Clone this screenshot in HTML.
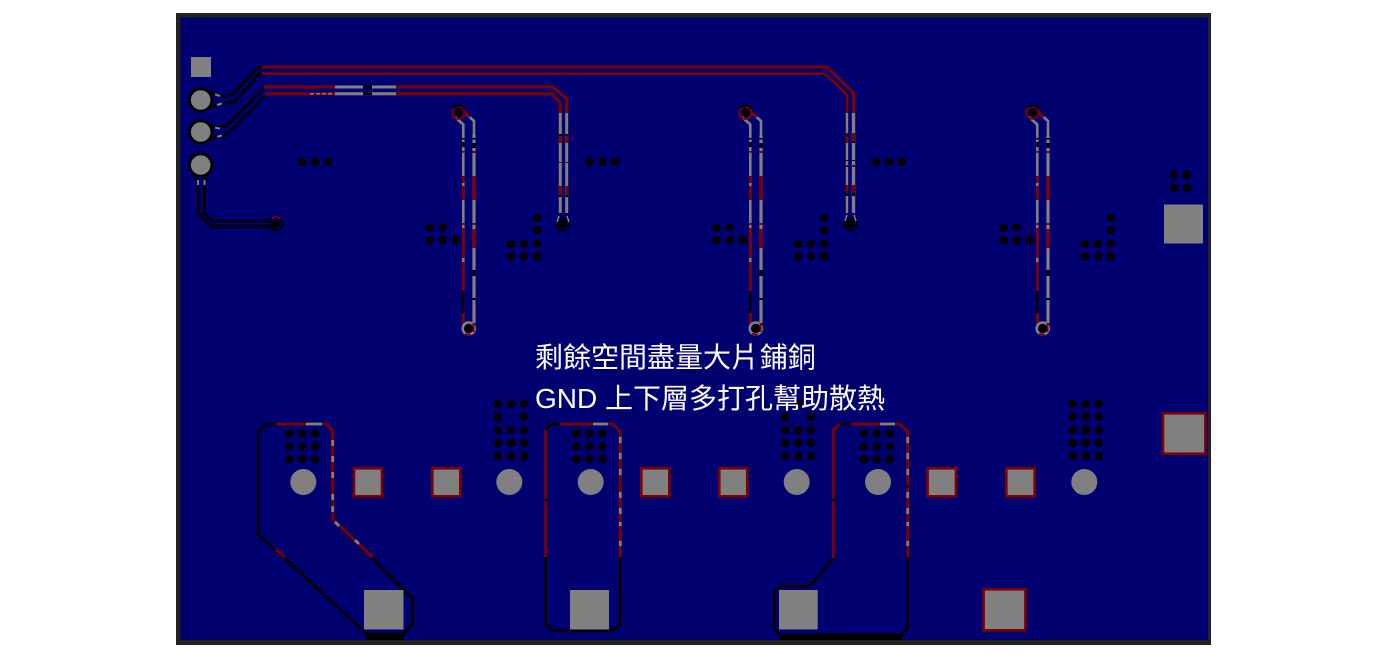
<!DOCTYPE html>
<html><head><meta charset="utf-8"><style>
html,body{margin:0;padding:0;background:#fff;width:1385px;height:669px;overflow:hidden}
svg{display:block;position:absolute;left:0;top:0}
.t{font-family:"Liberation Sans","WenQuanYi Zen Hei","Noto Sans CJK TC",sans-serif;font-size:28px;fill:#fff}
</style></head><body>
<svg width="1385" height="669" viewBox="0 0 1385 669" xmlns="http://www.w3.org/2000/svg">
<defs>
<g id="vp" fill="none">
<path d="M455 117L463.3 124.5V135M464 112L474 121V135" stroke="#808080" stroke-width="2.6"/>
<path d="M464 112L470 117" stroke="#800000" stroke-width="2.6"/>
<g stroke-width="2.6">
<path d="M463.3 135V325" stroke="#808080"/>
<path d="M463.3 138V139.5M463.3 142V147M463.3 291V313" stroke="#000"/>
<path d="M463.3 151V152.7M463.3 176V183M463.3 186V200M463.3 223V225M463.3 228V258M463.3 262V291M463.3 313V325" stroke="#800000"/>
</g>
<g stroke-width="3.2">
<path d="M474 135V323" stroke="#808080"/>
<path d="M474 138V139.5M474 143V148M474 270V276M474 298V300" stroke="#000"/>
<path d="M474 151V153M474 176V200M474 223V225M474 229V248" stroke="#800000"/>
</g>
<circle cx="458.5" cy="112.7" r="6.2" stroke="#800000" stroke-width="2"/>
<path d="M453 108A7.5 7.5 0 0 1 465 109" stroke="#000" stroke-width="2"/>
<circle cx="458.5" cy="112.7" r="4.2" fill="#000"/>
<circle cx="468.7" cy="328.5" r="6" stroke="#808080" stroke-width="2.6"/>
<path d="M473.5 323V332M465 334L471 335" stroke="#800000" stroke-width="2"/>
<circle cx="468.7" cy="328.5" r="4.2" fill="#000"/>
<g fill="#000">
<circle cx="429.5" cy="227.3" r="4.2"/><circle cx="442.6" cy="227.3" r="4.2"/>
<circle cx="429.5" cy="240" r="4.2"/><circle cx="442.6" cy="240" r="4.2"/><circle cx="455.6" cy="240" r="4.2"/>
<circle cx="537" cy="217.7" r="4.2"/><circle cx="537" cy="230.3" r="4.2"/>
<circle cx="511" cy="243.7" r="4.2"/><circle cx="524" cy="243.7" r="4"/><circle cx="537" cy="243.7" r="4.2"/>
<circle cx="511" cy="256.3" r="4.2"/><circle cx="524" cy="256.3" r="4"/><circle cx="537" cy="256.3" r="4.2"/>
<circle cx="302" cy="161.7" r="4.2"/>
<circle cx="315" cy="161.7" r="4.2"/><circle cx="328" cy="161.7" r="4.2"/>
</g>
</g>
<g id="cl3" fill="#000">
<circle cx="0" cy="0" r="4.2"/><circle cx="13" cy="0" r="4.2"/><circle cx="26" cy="0" r="4.2"/>
</g>
</defs>

<rect x="176" y="13" width="1035" height="632" fill="#222"/>
<rect x="180.5" y="17.5" width="1027.5" height="622.5" fill="#000070"/>

<use href="#vp"/>
<use href="#vp" x="287"/>
<use href="#vp" x="574"/>

<g fill="none" stroke-width="3">
<path d="M261.7 67H827L853.5 93V113" stroke="#800000"/>
<path d="M261.7 73.7H825L847 95V113" stroke="#800000" stroke-width="2.6"/>
<path d="M264 87H553L566.7 99V113" stroke="#800000"/>
<path d="M265 93.7H552L560.3 103V113" stroke="#800000"/>
<path d="M335 87H396M335 93.7H396" stroke="#808080"/>
<path d="M363 87H372M363 93.7H372" stroke="#000"/>
<path d="M310 93.7H332" stroke="#808080" stroke-width="1.5" stroke-dasharray="4 2"/>
<path d="M560.3 113V213M566.7 113V213" stroke="#808080"/>
<path d="M560.3 134V143M566.7 134V143M560.3 186V195M566.7 186V195M560.3 162V163M566.7 162V163" stroke="#800000"/>
<path d="M560.3 195V197M566.7 195V197M560.3 134V136M566.7 134V136" stroke="#000"/>
<path d="M847 113V213" stroke="#808080" stroke-width="2.4"/>
<path d="M853.5 113V213" stroke="#808080" stroke-width="3.4"/>
<path d="M847 133V143M853.5 133V143M847 165V167M853.5 165V167M847 185V193M853.5 185V193" stroke="#800000"/>
<path d="M847 160V161M853.5 160V161M847 193V196M853.5 193V196M847 134V136M853.5 141V143" stroke="#000"/>
</g>
<g fill="#000">
<circle cx="563" cy="224" r="7.5"/><circle cx="850.7" cy="224" r="7.5"/>
</g>
<circle cx="563" cy="224" r="5" fill="#000" stroke="#000070" stroke-width="1"/>
<circle cx="850.7" cy="224" r="5" fill="#000" stroke="#000070" stroke-width="1"/>
<path d="M559 216L557 222M567 216L569 222M847 215L845 221M854 215L856 221" stroke="#808080" stroke-width="1.5" fill="none"/>

<rect x="191" y="57" width="20" height="20" fill="#808080"/>
<g fill="none" stroke="#000" stroke-width="2.8">
<path d="M261.7 67H259L231.7 95L223 96.7L215 94.3L208 91.7"/>
<path d="M261.7 73.7H259L235 101.7L225 103.3L216.7 105L206.7 108.3"/>
<path d="M263.3 88.3L226.7 125.7L215 127.7L208 125"/>
<path d="M264 96.7L233.3 128.3L225 135.7L216.7 136.7L206.7 141"/>
<path d="M195 175L198.3 186.7V213.3L210 226.7H270L276 228" />
<path d="M206.7 176.7L204.3 186.7V213.3L211.7 221H270L273 218"/>
</g>
<g fill="#808080" stroke="#000" stroke-width="2.8">
<circle cx="200.7" cy="100" r="11.2"/><circle cx="200.7" cy="132" r="11.2"/><circle cx="200.7" cy="165" r="11.2"/>
</g>
<path d="M215 94.3L220 96M217 105L222 103.5M215 127.7L220 128.5M217 136.7L222 135.5M198 180V185M204.5 180V185" stroke="#808080" stroke-width="2" fill="none"/>
<circle cx="276" cy="224" r="6.5" fill="none" stroke="#000" stroke-width="2"/>
<circle cx="276" cy="224" r="4" fill="#000"/>
<path d="M272 218.5A6 6 0 0 1 280 218.5" stroke="#800000" stroke-width="1.6" fill="none"/>

<g fill="#000">
<circle cx="1174" cy="175" r="4.2"/><circle cx="1187" cy="175" r="4.2"/>
<circle cx="1174" cy="188" r="4.2"/><circle cx="1187" cy="188" r="4.2"/>
</g>
<rect x="1164" y="204.5" width="39" height="39" fill="#808080"/>

<use href="#cl3" x="289" y="433.3"/><use href="#cl3" x="289" y="446.3"/><use href="#cl3" x="289" y="459.3"/>
<use href="#cl3" x="576.3" y="433.3"/><use href="#cl3" x="576.3" y="446.3"/><use href="#cl3" x="576.3" y="459.3"/>
<use href="#cl3" x="863.7" y="433.3"/><use href="#cl3" x="863.7" y="446.3"/><use href="#cl3" x="863.7" y="459.3"/>
<use href="#cl3" x="498" y="403.7"/>
<use href="#cl3" x="498" y="430"/><use href="#cl3" x="498" y="443"/><use href="#cl3" x="498" y="456"/>
<g fill="#000"><circle cx="498" cy="416.7" r="4.2"/><circle cx="524" cy="416.7" r="4.2"/>
<circle cx="785" cy="416.7" r="4.2"/><circle cx="811" cy="416.7" r="4.2"/><circle cx="798" cy="403.5" r="4.2"/></g>
<use href="#cl3" x="785" y="430"/><use href="#cl3" x="785" y="443"/><use href="#cl3" x="785" y="456"/>
<use href="#cl3" x="1072.7" y="403.7"/><use href="#cl3" x="1072.7" y="416.7"/><use href="#cl3" x="1072.7" y="430"/><use href="#cl3" x="1072.7" y="443"/><use href="#cl3" x="1072.7" y="456"/>

<g fill="none" stroke-width="2.8">
<path d="M266.7 424H326L332.7 430.7V519L412.7 598.3V624L403.3 634H366.7L258.3 534V431.7Z" stroke="#000"/>
<path d="M276 424H326L332.7 430.7V519L372.7 557.5" stroke="#800000"/>
<path d="M306 424H322M332.7 440V446M332.7 456V462M332.7 472V478M332.7 494V500M332.7 506V512M335 522L339 526M355 540L359 544" stroke="#808080"/>
<path d="M276 549.5L285 557.5" stroke="#800000"/>
<path d="M545.7 557V430L551.7 424H612.7L620.3 431.7V557" stroke="#800000"/>
<path d="M545.7 430L551.7 424H560M620.3 557V624L612.7 630.7H553.3L545.7 624V557M544.7 500H547" stroke="#000"/>
<path d="M593 424H608M620.3 437V443M620.3 453V459M620.3 469V475M620.3 492V498M620.3 508V514M620.3 522V526M620.3 541V546" stroke="#808080"/>
<path d="M840 424H900L907.7 431.7V628L901.7 635H780L774.3 628V592.7L780 586H809.3L833.3 558.3V430Z" stroke="#000"/>
<path d="M833.3 558V430L840 424M851 424H900L907.7 431.7V557" stroke="#800000"/>
<path d="M880 424H895M907.7 437V443M907.7 453V459M907.7 469V475M907.7 492V498M907.7 508V514M907.7 522V526M907.7 541V546" stroke="#808080"/>
<path d="M907.7 485V488M832 500H835" stroke="#000"/>
</g>
<rect x="366" y="635" width="38" height="5" fill="#000"/>
<rect x="780" y="635" width="122" height="5" fill="#000"/>

<g fill="#808080">
<rect x="364" y="590" width="39.5" height="39.5"/>
<rect x="570" y="590" width="39" height="39.5"/>
<rect x="779" y="590" width="38.7" height="39.5"/>
<circle cx="303.3" cy="482" r="13"/><circle cx="509.3" cy="482" r="13"/><circle cx="590.7" cy="482" r="13"/>
<circle cx="796.7" cy="482" r="13"/><circle cx="878" cy="482" r="13"/><circle cx="1084.3" cy="482" r="13"/>
</g>
<g fill="#808080" stroke="#800000" stroke-width="2.6">
<rect x="354" y="468.3" width="28" height="28"/>
<rect x="432.3" y="468.3" width="28" height="28"/>
<rect x="641.3" y="468.3" width="28" height="28"/>
<rect x="719.3" y="468.3" width="28" height="28"/>
<rect x="927.6" y="468.3" width="28.4" height="28"/>
<rect x="1006.3" y="468.3" width="28.4" height="28"/>
<rect x="1163" y="413.3" width="42.4" height="40.4"/>
<rect x="983.6" y="589.3" width="41.8" height="41"/>
</g>

<text class="t" x="535" y="367">剩餘空間盡量大片<tspan dx="-7"> 鋪銅</tspan></text>
<text class="t" x="535" y="408">GND 上下層多打孔幫助散熱</text>
</svg>
</body></html>
